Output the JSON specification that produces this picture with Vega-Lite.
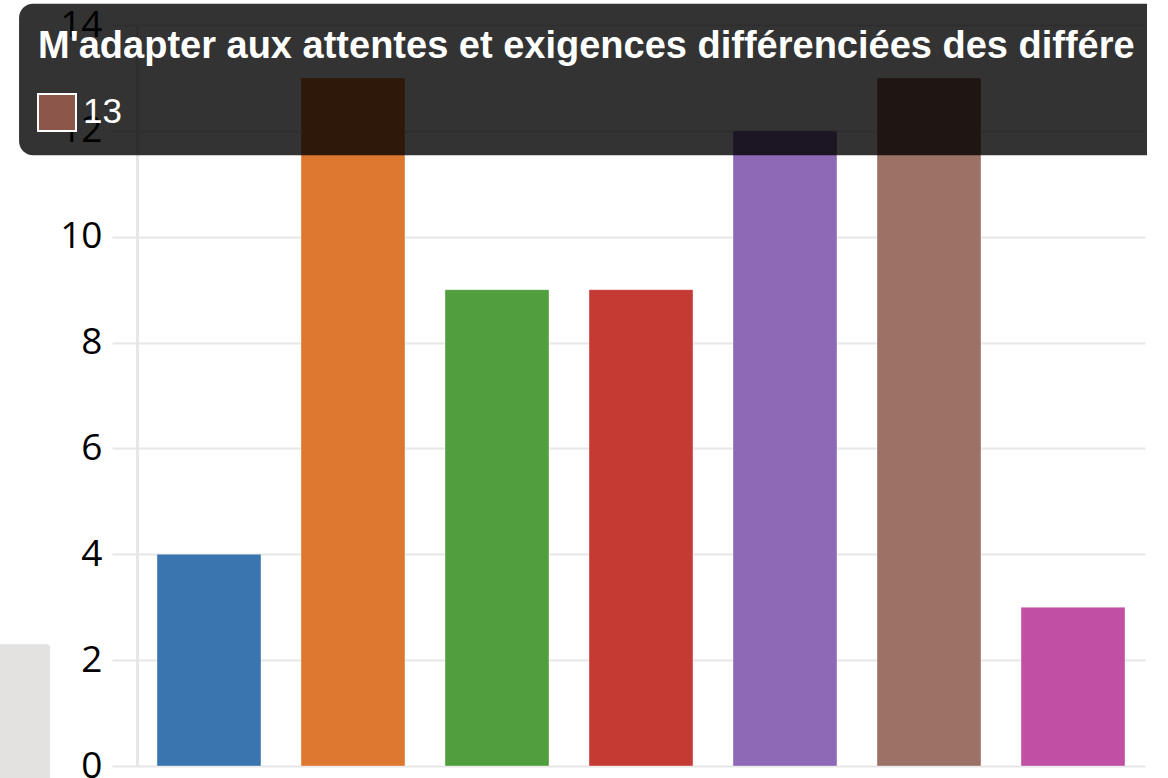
{
  "$schema": "https://vega.github.io/schema/vega-lite/v6.json",
  "autosize": "none",
  "width": 1008,
  "height": 741,
  "padding": {"left": 137, "top": 25, "right": 23, "bottom": 12},
  "background": "white",
  "config": {"view": {"stroke": null}},
  "datasets": {
    "bars": [
      {"categorie": "Catégorie 1", "valeur": 4},
      {"categorie": "Catégorie 2", "valeur": 13},
      {"categorie": "Catégorie 3", "valeur": 9},
      {"categorie": "Catégorie 4", "valeur": 9},
      {"categorie": "Catégorie 5", "valeur": 12},
      {"categorie": "M'adapter aux attentes et exigences différenciées des différents publics", "valeur": 13},
      {"categorie": "Catégorie 7", "valeur": 3}
    ],
    "tip": [
      {"titre": "M'adapter aux attentes et exigences différenciées des différents publics", "valeur": 13}
    ]
  },
  "resolve": {"scale": {"x": "independent"}, "axis": {"x": "independent"}},
  "layer": [
    {
      "data": {"name": "bars"},
      "mark": {"type": "bar", "stroke": "white", "strokeOpacity": 0.35, "strokeWidth": 1},
      "encoding": {
        "x": {
          "field": "categorie", "type": "nominal", "sort": null,
          "scale": {"paddingInner": 0.278, "paddingOuter": 0.139},
          "axis": {"labels": false, "ticks": false, "domain": false, "title": null, "grid": false}
        },
        "y": {
          "field": "valeur", "type": "quantitative",
          "scale": {"domain": [0, 14], "nice": false},
          "axis": {
            "values": [0, 2, 4, 6, 8, 10, 12, 14],
            "title": null,
            "labelFont": "Open Sans",
            "labelFontSize": 37,
            "labelColor": "#000000",
            "labelPadding": 10,
            "tickSize": 25,
            "tickColor": "#e6e6e6",
            "tickWidth": 2,
            "grid": true,
            "gridColor": "#e6e6e6",
            "gridWidth": 2,
            "domainColor": "#e6e6e6",
            "domainWidth": 3
          }
        },
        "color": {
          "field": "categorie", "type": "nominal", "sort": null, "legend": null,
          "scale": {"range": ["#3a75af", "#de7730", "#519e3e", "#c53a32", "#8e69b6", "#9c7166", "#c150a4"]}
        }
      }
    },
    {
      "data": {"name": "tip"},
      "layer": [
        {
          "mark": {"type": "rect", "color": "#e3e2e1", "cornerRadiusTopRight": 3},
          "encoding": {
            "x": {"datum": -0.951, "type": "quantitative", "scale": {"domain": [0, 7], "nice": false, "zero": false}, "axis": null},
            "x2": {"datum": -0.604},
            "y": {"datum": 2.3, "type": "quantitative"},
            "y2": {"datum": -0.3}
          }
        },
        {
          "mark": {"type": "rect", "color": "black", "opacity": 0.8, "cornerRadiusTopLeft": 14, "cornerRadiusBottomLeft": 14},
          "encoding": {
            "x": {"datum": -0.819, "type": "quantitative", "scale": {"domain": [0, 7], "nice": false, "zero": false}, "axis": null},
            "x2": {"datum": 7.014},
            "y": {"datum": 14.4, "type": "quantitative"},
            "y2": {"datum": 11.54}
          }
        },
        {
          "mark": {"type": "text", "color": "white", "font": "Liberation Sans", "fontWeight": "bold", "fontSize": 38, "align": "left", "baseline": "alphabetic", "limit": 1109, "ellipsis": "\u200b"},
          "encoding": {
            "x": {"datum": -0.6875, "type": "quantitative", "scale": {"domain": [0, 7], "nice": false, "zero": false}, "axis": null},
            "y": {"datum": 13.376, "type": "quantitative"},
            "text": {"field": "titre", "type": "nominal"}
          }
        },
        {
          "mark": {"type": "rect", "color": "#8c564b", "stroke": "white", "strokeWidth": 2},
          "encoding": {
            "x": {"datum": -0.6875, "type": "quantitative", "scale": {"domain": [0, 7], "nice": false, "zero": false}, "axis": null},
            "x2": {"datum": -0.4236},
            "y": {"datum": 12.696, "type": "quantitative"},
            "y2": {"datum": 11.997}
          }
        },
        {
          "mark": {"type": "text", "color": "white", "font": "Liberation Sans", "fontSize": 35, "align": "left", "baseline": "alphabetic"},
          "encoding": {
            "x": {"datum": -0.375, "type": "quantitative", "scale": {"domain": [0, 7], "nice": false, "zero": false}, "axis": null},
            "y": {"datum": 12.148, "type": "quantitative"},
            "text": {"field": "valeur", "type": "quantitative"}
          }
        }
      ]
    }
  ]
}
